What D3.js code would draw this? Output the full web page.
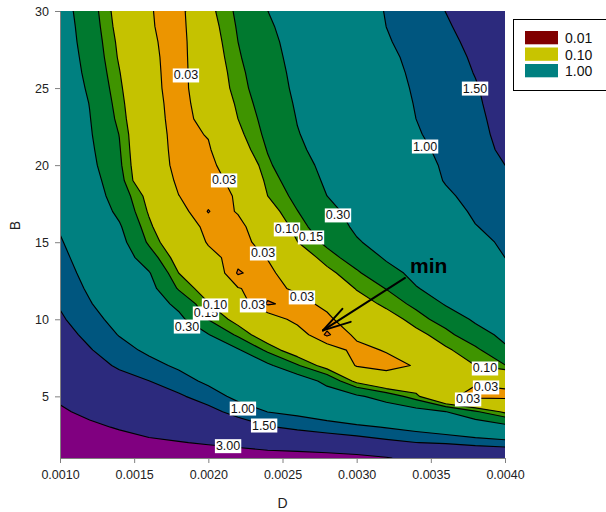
<!DOCTYPE html>
<html>
<head>
<meta charset="utf-8">
<script src="https://cdn.jsdelivr.net/npm/d3@7"></script>
<style>
  body { margin: 0; background: #fff; }
  svg text { font-family: "Liberation Sans", Arial, Helvetica, sans-serif; }
</style>
</head>
<body>
<svg id="chart" width="606" height="512"></svg>
<script>
// Grid nodes of the misfit surface
const dValues = [0.0010, 0.0012, 0.0014, 0.0016, 0.0018, 0.0020, 0.0022, 0.0024,
                 0.0026, 0.0028, 0.0030, 0.0032, 0.0034, 0.0036, 0.0038, 0.0040];
const bValues = [30, 29, 28, 27, 26, 25, 24, 23, 22, 21, 20, 19, 18, 17, 16,
                 15, 14, 13, 12, 11, 10, 9, 8, 7, 6, 5, 4, 3, 2, 1];

// log10 of the misfit, one row per B value (top row B = 30), one column per D value
const logMisfit = [
  [-0.38, -0.70, -1.116, -1.50, -1.65, -1.074, -0.774, -0.524, -0.389, -0.252, -0.116, 0.012, 0.095, 0.178, 0.25, 0.32],
  [-0.36, -0.676, -1.089, -1.489, -1.66, -1.115, -0.80, -0.558, -0.407, -0.271, -0.134, 0.001, 0.08, 0.159, 0.234, 0.305],
  [-0.35, -0.652, -1.052, -1.459, -1.67, -1.151, -0.824, -0.589, -0.425, -0.289, -0.152, -0.016, 0.065, 0.14, 0.214, 0.29],
  [-0.334, -0.624, -1.028, -1.437, -1.67, -1.179, -0.852, -0.612, -0.441, -0.308, -0.176, -0.043, 0.05, 0.123, 0.196, 0.275],
  [-0.316, -0.598, -0.988, -1.423, -1.67, -1.208, -0.886, -0.639, -0.456, -0.325, -0.195, -0.065, 0.037, 0.109, 0.182, 0.26],
  [-0.289, -0.566, -0.952, -1.409, -1.67, -1.229, -0.912, -0.664, -0.47, -0.341, -0.213, -0.085, 0.024, 0.094, 0.165, 0.25],
  [-0.262, -0.531, -0.917, -1.384, -1.66, -1.323, -0.954, -0.70, -0.491, -0.363, -0.235, -0.107, 0.012, 0.084, 0.155, 0.24],
  [-0.244, -0.511, -0.882, -1.38, -1.64, -1.409, -1.0, -0.734, -0.513, -0.385, -0.256, -0.128, 0.0, 0.073, 0.145, 0.227],
  [-0.226, -0.493, -0.83, -1.37, -1.62, -1.504, -1.06, -0.765, -0.536, -0.402, -0.274, -0.146, -0.017, 0.064, 0.137, 0.215],
  [-0.199, -0.466, -0.804, -1.36, -1.61, -1.56, -1.143, -0.81, -0.569, -0.423, -0.298, -0.174, -0.05, 0.048, 0.128, 0.20],
  [-0.17, -0.435, -0.778, -1.34, -1.60, -1.60, -1.32, -0.862, -0.624, -0.452, -0.328, -0.204, -0.08, 0.027, 0.101, 0.176],
  [-0.14, -0.387, -0.723, -1.33, -1.56, -1.61, -1.45, -0.932, -0.683, -0.481, -0.356, -0.231, -0.105, 0.012, 0.087, 0.147],
  [-0.11, -0.349, -0.665, -1.087, -1.52, -1.62, -1.50, -1.0, -0.752, -0.523, -0.40, -0.277, -0.154, -0.031, 0.06, 0.118],
  [-0.07, -0.28, -0.595, -1.027, -1.425, -1.71, -1.497, -1.119, -0.83, -0.594, -0.44, -0.321, -0.2, -0.082, 0.03, 0.088],
  [-0.02, -0.19, -0.486, -0.952, -1.325, -1.60, -1.62, -1.259, -0.91, -0.67, -0.477, -0.359, -0.242, -0.124, -0.007, 0.059],
  [0.02, -0.15, -0.41, -0.865, -1.224, -1.55, -1.65, -1.377, -1.006, -0.771, -0.548, -0.416, -0.296, -0.176, -0.056, 0.03],
  [0.057, -0.11, -0.33, -0.695, -1.114, -1.43, -1.64, -1.51, -1.164, -0.915, -0.706, -0.489, -0.367, -0.244, -0.122, 0.0],
  [0.091, -0.07, -0.266, -0.50, -1.0, -1.279, -1.72, -1.6, -1.317, -1.065, -0.86, -0.628, -0.448, -0.328, -0.21, -0.089],
  [0.126, -0.03, -0.202, -0.411, -0.85, -1.132, -1.51, -1.62, -1.469, -1.251, -0.983, -0.816, -0.539, -0.412, -0.298, -0.179],
  [0.16, 0.014, -0.138, -0.318, -0.609, -0.985, -1.40, -1.72, -1.64, -1.437, -1.125, -0.948, -0.767, -0.496, -0.386, -0.27],
  [0.202, 0.072, -0.074, -0.225, -0.434, -0.836, -1.082, -1.38, -1.6, -1.6, -1.27, -1.116, -0.916, -0.713, -0.474, -0.36],
  [0.25, 0.13, -0.01, -0.133, -0.301, -0.508, -0.875, -1.152, -1.393, -1.73, -1.47, -1.31, -1.07, -0.899, -0.649, -0.45],
  [0.30, 0.189, 0.071, -0.04, -0.168, -0.354, -0.489, -0.884, -1.148, -1.379, -1.60, -1.503, -1.29, -1.034, -0.884, -0.574],
  [0.35, 0.24, 0.154, 0.065, -0.035, -0.2, -0.347, -0.459, -0.80, -1.106, -1.55, -1.62, -1.50, -1.21, -1.0, -0.836],
  [0.40, 0.30, 0.233, 0.178, 0.087, -0.046, -0.204, -0.307, -0.31, -0.62, -1.07, -1.33, -1.24, -1.40, -1.48, -1.44],
  [0.45, 0.38, 0.31, 0.26, 0.20, 0.101, -0.061, -0.155, -0.18, -0.333, -0.47, -0.663, -0.939, -1.45, -1.62, -1.60],
  [0.50, 0.44, 0.386, 0.34, 0.295, 0.231, 0.117, -0.003, -0.05, -0.122, -0.212, -0.294, -0.391, -0.515, -0.79, -1.044],
  [0.56, 0.51, 0.463, 0.423, 0.39, 0.346, 0.281, 0.192, 0.138, 0.09, 0.042, -0.011, -0.07, -0.145, -0.25, -0.402],
  [0.62, 0.58, 0.543, 0.504, 0.485, 0.461, 0.43, 0.37, 0.354, 0.319, 0.279, 0.226, 0.178, 0.16, 0.117, 0.091],
  [0.68, 0.65, 0.62, 0.58, 0.58, 0.576, 0.578, 0.585, 0.57, 0.558, 0.536, 0.49, 0.42, 0.40, 0.41, 0.39]
];

// Contour levels (misfit values) and the fill of each band: below the first level, then above each level
const levels = [0.02, 0.03, 0.10, 0.15, 0.30, 1.00, 1.50, 3.00];
const bandColors = ["#e06a10", "#ec9500", "#c5c200", "#3f9400", "#00792f",
                    "#008080", "#00567f", "#2c2a7d", "#800080"];

// Axis ticks
const xTicks = [0.0010, 0.0015, 0.0020, 0.0025, 0.0030, 0.0035, 0.0040];
const yTicks = [5, 10, 15, 20, 25, 30];

// Legend entries
const legendValues = [0.01, 0.10, 1.00];
const legendColors = ["#800000", "#c8c400", "#008080"];

// Inline contour labels, anchored at (D, B)
const contourLabels = [
  { d: 0.001849, b: 25.85, level: 0.03 },
  { d: 0.002106, b: 19.04, level: 0.03 },
  { d: 0.002530, b: 15.86, level: 0.10 },
  { d: 0.002692, b: 15.34, level: 0.15 },
  { d: 0.002874, b: 16.77, level: 0.30 },
  { d: 0.002369, b: 14.30, level: 0.03 },
  { d: 0.002301, b: 10.93, level: 0.03 },
  { d: 0.002631, b: 11.45, level: 0.03 },
  { d: 0.001984, b: 10.41, level: 0.15 },
  { d: 0.002045, b: 10.93, level: 0.10 },
  { d: 0.001856, b: 9.56, level: 0.30 },
  { d: 0.003461, b: 21.24, level: 1.00 },
  { d: 0.003798, b: 25.00, level: 1.50 },
  { d: 0.003865, b: 6.84, level: 0.10 },
  { d: 0.003872, b: 5.61, level: 0.03 },
  { d: 0.003751, b: 4.83, level: 0.03 },
  { d: 0.002233, b: 4.24, level: 1.00 },
  { d: 0.002376, b: 3.14, level: 1.50 },
  { d: 0.002133, b: 1.80, level: 3.00 }
];

// Minimum marker: arrow from the caption to the lowest point
const minArrow = { fromD: 0.003326, fromB: 12.68, toD: 0.002773, toB: 9.28, text: "min" };

// ---------------------------------------------------------------------------
const svg = d3.select("#chart");
const plot = { left: 60, right: 505, top: 11, bottom: 458 };

const x = d3.scaleLinear().domain([0.001, 0.004]).range([plot.left, plot.right]);
const y = d3.scaleLinear().domain([1, 30]).range([plot.bottom, plot.top]);

// grid coordinates from d3.contours (node i sits at i + 0.5) to pixels
const nx = dValues.length, ny = bValues.length;
const gx = d3.scaleLinear().domain([0.5, nx - 0.5]).range([x(dValues[0]), x(dValues[nx - 1])]);
const gy = d3.scaleLinear().domain([0.5, ny - 0.5]).range([y(bValues[0]), y(bValues[ny - 1])]);
const gridPath = d3.geoPath(d3.geoTransform({
  point(px, py) { this.stream.point(gx(px), gy(py)); }
}));

const bands = d3.contours()
  .size([nx, ny])
  .thresholds(levels.map(v => Math.log10(v)))
  (logMisfit.flat());

svg.append("defs").append("clipPath").attr("id", "plotClip")
  .append("rect")
  .attr("x", plot.left).attr("y", plot.top)
  .attr("width", plot.right - plot.left).attr("height", plot.bottom - plot.top);

const field = svg.append("g").attr("clip-path", "url(#plotClip)");

field.append("rect")
  .attr("x", plot.left).attr("y", plot.top)
  .attr("width", plot.right - plot.left).attr("height", plot.bottom - plot.top)
  .attr("fill", bandColors[0]);

field.selectAll("path.band")
  .data(bands)
  .join("path")
  .attr("class", "band")
  .attr("d", gridPath)
  .attr("fill", (d, i) => bandColors[i + 1]);

field.selectAll("path.line")
  .data(bands)
  .join("path")
  .attr("class", "line")
  .attr("d", gridPath)
  .attr("fill", "none")
  .attr("stroke", "#000")
  .attr("stroke-width", 1.15)
  .attr("stroke-linejoin", "round");

// inline level labels on white boxes
const fmt2 = d3.format(".2f");
const labelG = svg.append("g");
contourLabels.forEach(l => {
  const g = labelG.append("g").attr("transform", `translate(${x(l.d)},${y(l.b)})`);
  const t = g.append("text")
    .attr("text-anchor", "middle")
    .attr("dy", "0.36em")
    .attr("font-size", 12.5)
    .attr("fill", "#111")
    .text(fmt2(l.level));
  const bb = t.node().getBBox();
  g.insert("rect", "text")
    .attr("x", bb.x - 1).attr("y", bb.y)
    .attr("width", bb.width + 2).attr("height", bb.height)
    .attr("fill", "#fff");
});

// minimum annotation
{
  const x0 = x(minArrow.fromD), y0 = y(minArrow.fromB);
  const x1 = x(minArrow.toD), y1 = y(minArrow.toB);
  const ang = Math.atan2(y0 - y1, x0 - x1);
  const headLen = 29, spread = 0.27;
  const ann = svg.append("g").attr("stroke", "#000").attr("stroke-width", 2).attr("stroke-linecap", "round");
  ann.append("line").attr("x1", x0).attr("y1", y0).attr("x2", x1).attr("y2", y1);
  [-spread, spread].forEach(s => {
    ann.append("line")
      .attr("x1", x1).attr("y1", y1)
      .attr("x2", x1 + headLen * Math.cos(ang + s))
      .attr("y2", y1 + headLen * Math.sin(ang + s));
  });
  svg.append("text")
    .attr("x", x0 + 5).attr("y", y0 - 5)
    .attr("font-size", 21).attr("font-weight", "bold").attr("fill", "#000")
    .text(minArrow.text);
}

// axes
const axisColor = "#808080";
const xAxis = svg.append("g")
  .attr("transform", `translate(0,${plot.bottom})`)
  .call(d3.axisBottom(x).tickValues(xTicks).tickFormat(d3.format(".4f"))
        .tickSize(5).tickSizeOuter(0).tickPadding(7));
const yAxis = svg.append("g")
  .attr("transform", `translate(${plot.left},0)`)
  .call(d3.axisLeft(y).tickValues(yTicks).tickFormat(d3.format("d"))
        .tickSize(5).tickSizeOuter(0).tickPadding(6));
[xAxis, yAxis].forEach(a => {
  a.attr("font-family", null).attr("font-size", null);
  a.selectAll("path, line").attr("stroke", axisColor);
  a.selectAll("text").attr("font-size", 12.5).attr("fill", "#222");
});

svg.append("text")
  .attr("x", (plot.left + plot.right) / 2).attr("y", 508)
  .attr("text-anchor", "middle").attr("font-size", 14).attr("fill", "#222")
  .text("D");
svg.append("text")
  .attr("transform", `translate(20,${(plot.top + plot.bottom) / 2 - 9}) rotate(-90)`)
  .attr("text-anchor", "middle").attr("font-size", 14).attr("fill", "#222")
  .text("B");

// legend
const legend = svg.append("g");
legend.append("rect")
  .attr("x", 513.5).attr("y", 19.5).attr("width", 100).attr("height", 71)
  .attr("fill", "#fff").attr("stroke", "#000").attr("stroke-width", 1);
legendValues.forEach((v, i) => {
  const top = 31 + i * 16.5;
  legend.append("rect")
    .attr("x", 525).attr("y", top).attr("width", 33).attr("height", 13.3)
    .attr("fill", legendColors[i]);
  legend.append("text")
    .attr("x", 565).attr("y", top + 12.3)
    .attr("font-size", 14).attr("fill", "#111")
    .text(fmt2(v));
});
</script>
</body>
</html>
